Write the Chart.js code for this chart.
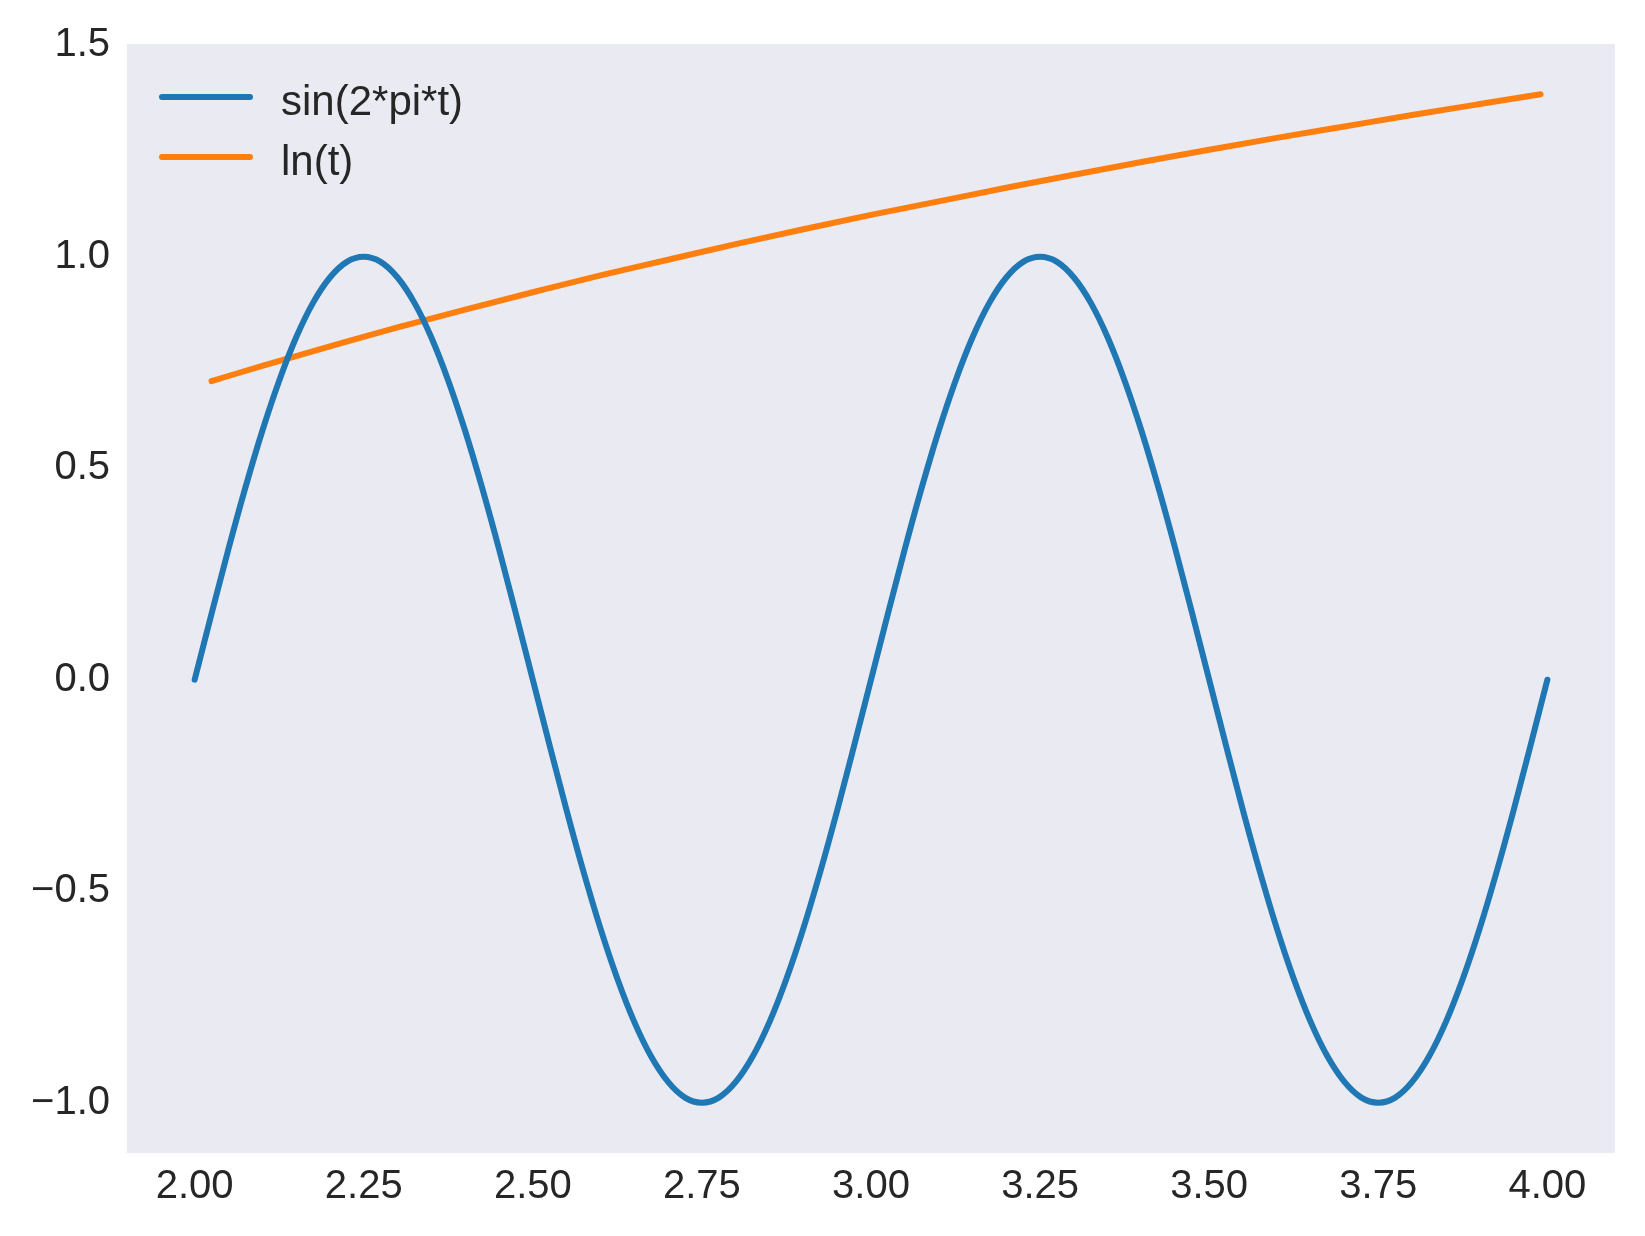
<!DOCTYPE html>
<html>
<head>
<meta charset="utf-8">
<script src="https://cdn.jsdelivr.net/npm/chart.js@4"></script>
<style>
  html, body { margin: 0; padding: 0; background: #fff; }
  canvas { display: block; }
</style>
</head>
<body>
<canvas id="chart" width="1645" height="1236"></canvas>
<script>
// sin(2*pi*t) sampled every 0.025
const sinT = [
  2.000, 2.025, 2.050, 2.075, 2.100, 2.125, 2.150, 2.175, 2.200, 2.225,
  2.250, 2.275, 2.300, 2.325, 2.350, 2.375, 2.400, 2.425, 2.450, 2.475,
  2.500, 2.525, 2.550, 2.575, 2.600, 2.625, 2.650, 2.675, 2.700, 2.725,
  2.750, 2.775, 2.800, 2.825, 2.850, 2.875, 2.900, 2.925, 2.950, 2.975,
  3.000, 3.025, 3.050, 3.075, 3.100, 3.125, 3.150, 3.175, 3.200, 3.225,
  3.250, 3.275, 3.300, 3.325, 3.350, 3.375, 3.400, 3.425, 3.450, 3.475,
  3.500, 3.525, 3.550, 3.575, 3.600, 3.625, 3.650, 3.675, 3.700, 3.725,
  3.750, 3.775, 3.800, 3.825, 3.850, 3.875, 3.900, 3.925, 3.950, 3.975,
  4.000
]
const sinValues = [
  0, 0.156, 0.309, 0.454, 0.588, 0.707, 0.809, 0.891, 0.951, 0.988,
  1, 0.988, 0.951, 0.891, 0.809, 0.707, 0.588, 0.454, 0.309, 0.156,
  0, -0.156, -0.309, -0.454, -0.588, -0.707, -0.809, -0.891, -0.951, -0.988,
  -1, -0.988, -0.951, -0.891, -0.809, -0.707, -0.588, -0.454, -0.309, -0.156,
  0, 0.156, 0.309, 0.454, 0.588, 0.707, 0.809, 0.891, 0.951, 0.988,
  1, 0.988, 0.951, 0.891, 0.809, 0.707, 0.588, 0.454, 0.309, 0.156,
  0, -0.156, -0.309, -0.454, -0.588, -0.707, -0.809, -0.891, -0.951, -0.988,
  -1, -0.988, -0.951, -0.891, -0.809, -0.707, -0.588, -0.454, -0.309, -0.156,
  0
]

// ln(t)
const lnT = [
  2.025, 2.1, 2.2, 2.3, 2.4, 2.5, 2.6, 2.7, 2.8, 2.9, 3.0,
  3.1, 3.2, 3.3, 3.4, 3.5, 3.6, 3.7, 3.8, 3.9, 3.99
]
const lnValues = [
  0.706, 0.742, 0.788, 0.833, 0.875, 0.916, 0.956, 0.993, 1.030, 1.065, 1.099,
  1.131, 1.163, 1.194, 1.224, 1.253, 1.281, 1.308, 1.335, 1.361, 1.384
]

const seriesLabels = ['sin(2*pi*t)', 'ln(t)']
const xTicks = [2.0, 2.25, 2.5, 2.75, 3.0, 3.25, 3.5, 3.75, 4.0]
const yTicks = [-1.0, -0.5, 0.0, 0.5, 1.0, 1.5]

const textColor = '#262626'
const fontFamily = '"Liberation Sans", Arial, sans-serif'

const toPoints = (xs, ys) => xs.map((x, i) => ({ x: x, y: ys[i] }))

const plotBackground = {
  id: 'plotBackground',
  beforeDraw(chart) {
    const { ctx, chartArea } = chart
    ctx.save()
    ctx.fillStyle = '#eaeaf2'
    ctx.fillRect(chartArea.left, chartArea.top, chartArea.right - chartArea.left, chartArea.bottom - chartArea.top)
    ctx.restore()
  },
}

// legend drawn inside the plot, top left, no frame
const innerLegend = {
  id: 'innerLegend',
  afterDraw(chart) {
    const ctx = chart.ctx
    ctx.save()
    chart.data.datasets.forEach((ds, i) => {
      const y = 97 + i * 60
      ctx.strokeStyle = ds.borderColor
      ctx.lineWidth = 6
      ctx.lineCap = 'round'
      ctx.beginPath()
      ctx.moveTo(162, y)
      ctx.lineTo(250, y)
      ctx.stroke()
      ctx.fillStyle = textColor
      ctx.font = '42px ' + fontFamily
      ctx.textAlign = 'left'
      ctx.textBaseline = 'middle'
      ctx.fillText(ds.label, 281, y + 6)
    })
    ctx.restore()
  },
}

new Chart(document.getElementById('chart'), {
  type: 'line',
  data: {
    datasets: [
      {
        label: seriesLabels[0],
        data: toPoints(sinT, sinValues),
        borderColor: '#1f77b4',
        borderWidth: 6,
        borderCapStyle: 'round',
        borderJoinStyle: 'round',
        cubicInterpolationMode: 'monotone',
        pointRadius: 0,
        fill: false,
      },
      {
        label: seriesLabels[1],
        data: toPoints(lnT, lnValues),
        borderColor: '#ff7f0e',
        borderWidth: 6,
        borderCapStyle: 'round',
        borderJoinStyle: 'round',
        cubicInterpolationMode: 'monotone',
        pointRadius: 0,
        fill: false,
      },
    ],
  },
  options: {
    responsive: false,
    animation: false,
    events: [],
    layout: {
      padding: { left: 0, top: 44, right: 30, bottom: 0 },
    },
    plugins: {
      legend: { display: false },
      tooltip: { enabled: false },
    },
    scales: {
      x: {
        type: 'linear',
        min: 1.9,
        max: 4.1,
        grid: { display: false, drawTicks: false },
        border: { display: false },
        afterBuildTicks(scale) {
          scale.ticks = xTicks.map((v) => ({ value: v }))
        },
        afterFit(scale) {
          scale.height = 83
        },
        ticks: {
          color: textColor,
          padding: 10,
          maxRotation: 0,
          font: { family: fontFamily, size: 40 },
          callback: (v) => Number(v).toFixed(2),
        },
      },
      y: {
        type: 'linear',
        min: -1.119,
        max: 1.503,
        grid: { display: false, drawTicks: false },
        border: { display: false },
        afterBuildTicks(scale) {
          scale.ticks = yTicks.map((v) => ({ value: v }))
        },
        afterFit(scale) {
          scale.width = 127
        },
        ticks: {
          color: textColor,
          padding: 17,
          font: { family: fontFamily, size: 40 },
          callback: (v) => (v < 0 ? '\u2212' + Math.abs(v).toFixed(1) : Number(v).toFixed(1)),
        },
      },
    },
  },
  plugins: [plotBackground, innerLegend],
})
</script>
</body>
</html>
